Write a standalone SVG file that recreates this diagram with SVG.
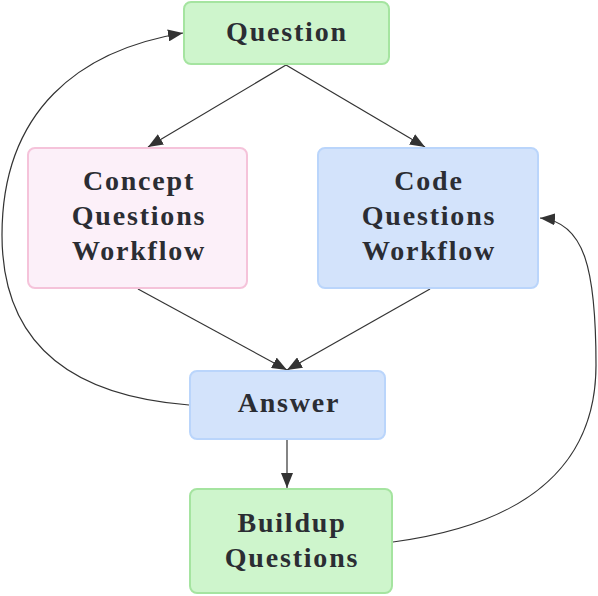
<svg xmlns="http://www.w3.org/2000/svg" width="598" height="596" viewBox="0 0 598 596">
<style>
.lbl{font-family:"Liberation Serif","DejaVu Serif",serif;font-weight:bold;font-size:28px;letter-spacing:1.8px;fill:#2b2d33;text-anchor:middle}
.green rect{fill:#cef5cc;stroke:#a5e4a0;stroke-width:2}
.pink rect{fill:#fcf0f9;stroke:#f5c3da;stroke-width:2}
.blue rect{fill:#d3e3fb;stroke:#bad5fb;stroke-width:2}
.edge{fill:none;stroke:#333;stroke-width:1.2;marker-end:url(#arr)}
</style>
<defs>
<marker id="arr" markerUnits="userSpaceOnUse" markerWidth="16" markerHeight="12" refX="15" refY="6" orient="auto">
<path d="M0,0 L15,6 L0,12 z" fill="#333"/>
</marker>
</defs>
<g id="connectors">
<path class="edge" d="M286,65 L148,147"/>
<path class="edge" d="M286,65 L425,147"/>
<path class="edge" d="M138,289 L287,370"/>
<path class="edge" d="M430,289 L287,370"/>
<path class="edge" d="M287,440 L287,488"/>
<path class="edge" d="M189,405 C60,395 2,335 2,235 C2,110 80,50 183,33"/>
<path class="edge" d="M393,542 C520,525 596,470 596,365 C596,270 585,222 540,218"/>
</g>
<g id="question" class="green">
<rect x="184" y="2" width="205" height="62" rx="7"/>
<text class="lbl" x="287" y="41">Question</text>
</g>
<g id="concept" class="pink">
<rect x="28" y="148" width="219" height="140" rx="7"/>
<text class="lbl" x="139" y="190">Concept</text>
<text class="lbl" x="139" y="225">Questions</text>
<text class="lbl" x="139" y="260">Workflow</text>
</g>
<g id="code" class="blue">
<rect x="318" y="148" width="220" height="140" rx="7"/>
<text class="lbl" x="429" y="190">Code</text>
<text class="lbl" x="429" y="225">Questions</text>
<text class="lbl" x="429" y="260">Workflow</text>
</g>
<g id="answer" class="blue">
<rect x="190" y="371" width="195" height="68" rx="7"/>
<text class="lbl" x="289" y="412">Answer</text>
</g>
<g id="buildup" class="green">
<rect x="190" y="489" width="202" height="104" rx="7"/>
<text class="lbl" x="292" y="532">Buildup</text>
<text class="lbl" x="292" y="567">Questions</text>
</g>
</svg>
